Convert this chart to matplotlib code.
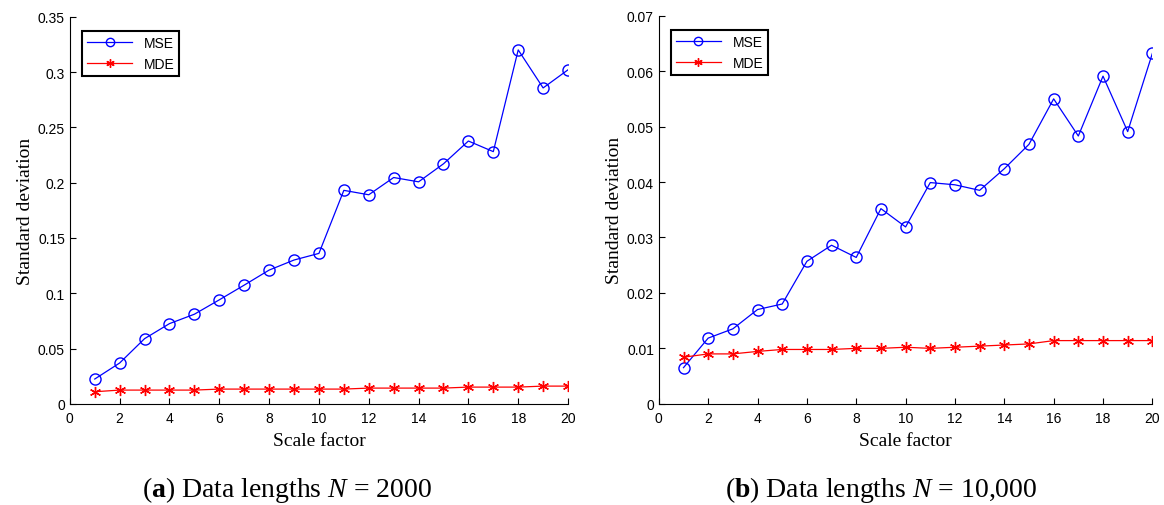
import matplotlib.pyplot as plt

scale = list(range(1, 21))

# (a) N = 2000
mse_a = [0.0224, 0.0369, 0.0589, 0.0725, 0.081, 0.094, 0.1073, 0.1209, 0.130, 0.136,
         0.193, 0.189, 0.2046, 0.2007, 0.217, 0.2376, 0.228, 0.320, 0.2856, 0.302]
mde_a = [0.0109, 0.0124, 0.0124, 0.0124, 0.0124, 0.0133, 0.0133, 0.0133, 0.0133, 0.0133,
         0.0133, 0.0142, 0.0142, 0.0142, 0.0142, 0.0151, 0.0151, 0.0151, 0.016, 0.016]

# (b) N = 10,000
mse_b = [0.00652, 0.01185, 0.01352, 0.0170, 0.0180, 0.0257, 0.0286, 0.0264, 0.0352, 0.0319,
         0.0399, 0.0395, 0.0385, 0.0424, 0.0468, 0.0550, 0.0483, 0.0591, 0.0491, 0.0632]
mde_b = [0.0084, 0.0090, 0.0090, 0.00945, 0.0098, 0.0098, 0.0098, 0.0100, 0.0100, 0.0102,
         0.0100, 0.0102, 0.0104, 0.0106, 0.0108, 0.0114, 0.0114, 0.0114, 0.0114, 0.0114]

panels = [
    (mse_a, mde_a, 0.35, [0, 0.05, 0.1, 0.15, 0.2, 0.25, 0.3, 0.35],
     ["0", "0.05", "0.1", "0.15", "0.2", "0.25", "0.3", "0.35"],
     r"($\mathbf{a}$) Data lengths $N$ = 2000"),
    (mse_b, mde_b, 0.07, [0, 0.01, 0.02, 0.03, 0.04, 0.05, 0.06, 0.07],
     ["0", "0.01", "0.02", "0.03", "0.04", "0.05", "0.06", "0.07"],
     r"($\mathbf{b}$) Data lengths $N$ = 10,000"),
]

plt.rcParams["mathtext.fontset"] = "custom"
plt.rcParams["mathtext.rm"] = "Liberation Serif"
plt.rcParams["mathtext.it"] = "Liberation Serif:italic"
plt.rcParams["mathtext.bf"] = "Liberation Serif:bold"

fig = plt.figure(figsize=(11.64, 5.06), dpi=100)
boxes = [[0.060, 0.200, 0.428, 0.765], [0.566, 0.200, 0.424, 0.767]]
caption_x = [287 / 1164, 881 / 1164]

for (mse, mde, ymax, yt, ytl, caption), box, cx in zip(panels, boxes, caption_x):
    ax = fig.add_axes(box)
    ax.plot(scale, mse, color="blue", marker="o", markersize=8, markerfacecolor="none",
            markeredgecolor="blue", linewidth=0.9, label="MSE")
    ax.plot(scale, mde, color="red", marker=(6, 2, 0), markersize=8,
            markeredgecolor="red", linewidth=0.9, label="MDE")
    ax.set_xlim(0, 20)
    ax.set_ylim(0, ymax)
    ax.set_xticks(range(0, 21, 2))
    ax.set_yticks(yt)
    ax.set_yticklabels(ytl)
    for lab in ax.get_xticklabels() + ax.get_yticklabels():
        lab.set_fontfamily("Liberation Sans")
        lab.set_fontsize(10)
    ax.tick_params(direction="in", length=4, width=0.8)
    ax.tick_params(axis="x", pad=5)
    ax.spines["top"].set_visible(False)
    ax.spines["right"].set_visible(False)
    ax.set_xlabel("Scale factor", fontfamily="Liberation Serif", fontsize=14, labelpad=5)
    ax.set_ylabel("Standard deviation", fontfamily="Liberation Serif", fontsize=14, labelpad=3)
    leg = ax.legend(loc="upper left", bbox_to_anchor=(0.01, 0.98), fancybox=False,
                    edgecolor="black", framealpha=1, prop={"family": "Liberation Sans", "size": 10},
                    handlelength=3.3, borderpad=0.35, labelspacing=0.5, markerscale=0.75)
    leg.get_frame().set_linewidth(1.5)
    fig.text(cx, 0.018, caption, ha="center", va="baseline",
             fontfamily="Liberation Serif", fontsize=20)

fig.savefig("out.png", dpi=100)
